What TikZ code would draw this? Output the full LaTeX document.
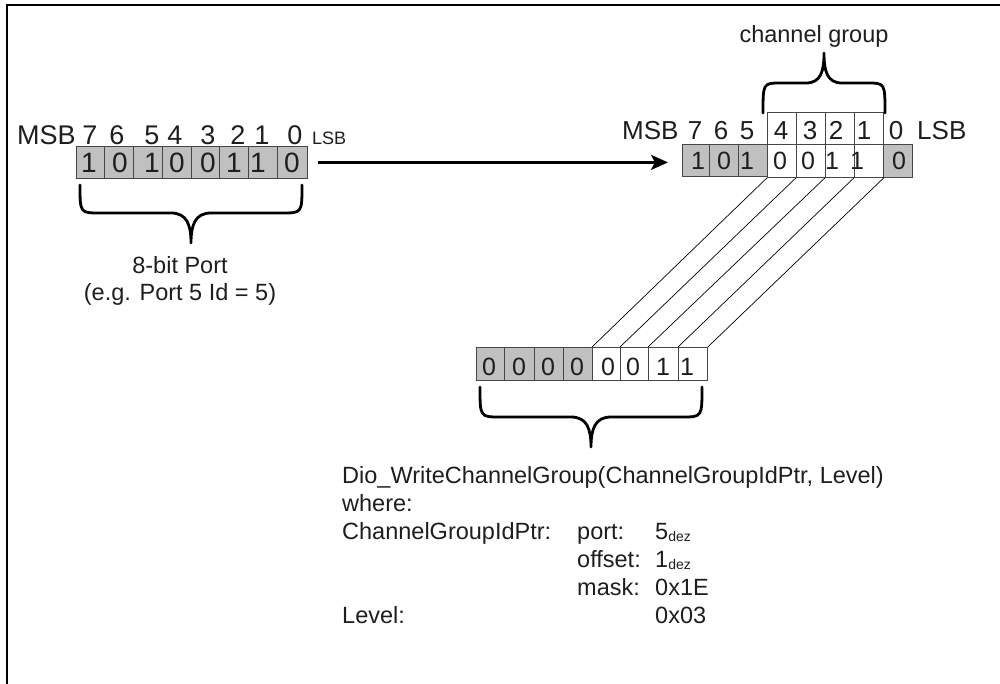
\documentclass[tikz,border=0pt]{standalone}
\usepackage{fontspec}
\setmainfont{Liberation Sans}
\usetikzlibrary{arrows.meta}
\definecolor{cellgray}{RGB}{192,192,192}
\definecolor{cellline}{RGB}{70,70,70}
\definecolor{txt}{RGB}{30,30,30}
\tikzset{
  cellg/.style={draw=cellline, fill=cellgray, line width=0.8pt, inner sep=0pt, anchor=north west, minimum height=32pt},
  cellw/.style={draw=cellline, fill=white, line width=0.8pt, inner sep=0pt, anchor=north west, minimum height=32pt},
  bigdig/.style={anchor=base, inner sep=0pt, text=txt, font=\fontsize{28}{28}\selectfont},
  middig/.style={anchor=base, inner sep=0pt, text=txt, font=\fontsize{25}{25}\selectfont},
  lbl/.style={anchor=base, inner sep=0pt, text=txt, font=\fontsize{27}{27}\selectfont},
  lblr/.style={anchor=base, inner sep=0pt, text=txt, font=\fontsize{26}{26}\selectfont},
  body/.style={anchor=base west, inner sep=0pt, text=txt, font=\fontsize{23.5}{28}\selectfont},
  bodyc/.style={anchor=base, inner sep=0pt, text=txt, font=\fontsize{23.5}{28}\selectfont},
  bracepath/.style={line width=2.8pt, line cap=round, line join=round},
  slant/.style={line width=0.7pt, draw=black},
  arrowline/.style={line width=2.6pt, -{Stealth[length=17pt,width=15pt,inset=4pt]}},
}
\newcommand\dez{\raisebox{-2.5pt}{\fontsize{14}{14}\selectfont dez}}
\begin{document}
\begin{tikzpicture}[x=1pt,y=-1pt]
\useasboundingbox (0,0) rectangle (1000,684);
% frame
\draw[line width=2pt] (7,684) -- (7,5) -- (1000,5);

% left register
\node[cellg, minimum width=28pt] (L0) at (76,146) {};
\node[cellg, minimum width=29pt] (L1) at (104,146) {};
\node[cellg, minimum width=29pt] (L2) at (133,146) {};
\node[cellg, minimum width=29pt] (L3) at (162,146) {};
\node[cellg, minimum width=28pt] (L4) at (191,146) {};
\node[cellg, minimum width=29pt] (L5) at (219,146) {};
\node[cellg, minimum width=29pt] (L6) at (248,146) {};
\node[cellg, minimum width=30pt] (L7) at (277,146) {};
\node[bigdig] (ld0) at (89,173) {1};
\node[bigdig] (ld1) at (120,173) {0};
\node[bigdig] (ld2) at (152,173) {1};
\node[bigdig] (ld3) at (177,173) {0};
\node[bigdig] (ld4) at (208,173) {0};
\node[bigdig] (ld5) at (234,173) {1};
\node[bigdig] (ld6) at (258,173) {1};
\node[bigdig] (ld7) at (292,173) {0};
% left labels
\node[lbl, anchor=base west] (lmsb) at (17,145) {MSB};
\node[lbl] (lb7) at (90,145) {7};
\node[lbl] (lb6) at (117,145) {6};
\node[lbl] (lb5) at (152,145) {5};
\node[lbl] (lb4) at (175,145) {4};
\node[lbl] (lb3) at (208,145) {3};
\node[lbl] (lb2) at (238,145) {2};
\node[lbl] (lb1) at (262,145) {1};
\node[lbl] (lb0) at (295,145) {0};
\node[anchor=base west, inner sep=0pt, text=txt, font=\fontsize{18}{18}\selectfont] (llsb) at (312,145) {LSB};

% right register
\node[cellg, minimum width=27pt] (R0) at (682,144) {};
\node[cellg, minimum width=29pt] (R1) at (709,144) {};
\node[cellg, minimum width=29pt] (R2) at (738,144) {};
\node[cellw, minimum width=29pt, minimum height=33pt] (R3) at (767,144) {};
\node[cellw, minimum width=29pt, minimum height=33pt] (R4) at (796,144) {};
\node[cellw, minimum width=29pt, minimum height=33pt] (R5) at (825,144) {};
\node[cellw, minimum width=29pt, minimum height=33pt] (R6) at (854,144) {};
\node[cellg, minimum width=29pt, minimum height=33pt] (R7) at (883,144) {};
\node[cellw, minimum width=29pt] (U3) at (767,112) {};
\node[cellw, minimum width=29pt] (U4) at (796,112) {};
\node[cellw, minimum width=29pt] (U5) at (825,112) {};
\node[cellw, minimum width=29pt] (U6) at (854,112) {};
\node[middig] (rd0) at (698,170) {1};
\node[middig] (rd1) at (724,170) {0};
\node[middig] (rd2) at (747,170) {1};
\node[middig] (rd3) at (780,170) {0};
\node[middig] (rd4) at (808,170) {0};
\node[middig] (rd5) at (832,170) {1};
\node[middig] (rd6) at (857,170) {1};
\node[middig] (rd7) at (899,170) {0};
% right labels
\node[lblr, anchor=base west] (rmsb) at (622,140) {MSB};
\node[lblr] (rb7) at (695,140) {7};
\node[lblr] (rb6) at (721,140) {6};
\node[lblr] (rb5) at (747,140) {5};
\node[lblr] (rb4) at (781,140) {4};
\node[lblr] (rb3) at (810,140) {3};
\node[lblr] (rb2) at (836,140) {2};
\node[lblr] (rb1) at (864,140) {1};
\node[lblr] (rb0) at (896,140) {0};
\node[lblr, anchor=base west] (rlsb) at (917,140) {LSB};

% bottom register
\node[cellg, minimum width=28pt, minimum height=33pt] (B0) at (476,347) {};
\node[cellg, minimum width=30pt, minimum height=33pt] (B1) at (504,347) {};
\node[cellg, minimum width=29pt, minimum height=33pt] (B2) at (534,347) {};
\node[cellg, minimum width=29pt, minimum height=33pt] (B3) at (563,347) {};
\node[cellw, minimum width=28pt, minimum height=33pt] (B4) at (592,347) {};
\node[cellw, minimum width=28pt, minimum height=33pt] (B5) at (620,347) {};
\node[cellw, minimum width=30pt, minimum height=33pt] (B6) at (648,347) {};
\node[cellw, minimum width=29pt, minimum height=33pt] (B7) at (678,347) {};
\node[middig] (bd0) at (489,375) {0};
\node[middig] (bd1) at (519,375) {0};
\node[middig] (bd2) at (548,375) {0};
\node[middig] (bd3) at (577,375) {0};
\node[middig] (bd4) at (608,375) {0};
\node[middig] (bd5) at (633,375) {0};
\node[middig] (bd6) at (663,375) {1};
\node[middig] (bd7) at (687,375) {1};

% slanted mapping lines
\draw[slant] (B4.north west) -- (R3.south west);
\draw[slant] (B5.north west) -- (R4.south west);
\draw[slant] (B6.north west) -- (R5.south west);
\draw[slant] (B7.north west) -- (R6.south west);
\draw[slant] (B7.north east) -- (R6.south east);

% arrow
\draw[arrowline] ([xshift=10pt]L7.east) -- ([xshift=-14pt]L7.east -| R0.west);

% braces
\draw[bracepath] (80,185) .. controls (80,213) and (80,213) .. (100,213) -- (171,213)
  .. controls (187,213) and (191,225) .. (191,243)
  .. controls (191,225) and (195,213) .. (211,213) -- (282,213)
  .. controls (302,213) and (302,213) .. (302,185);
\draw[bracepath] (480,387) .. controls (480,417) and (480,417) .. (500,417) -- (571,417)
  .. controls (587,417) and (591,429) .. (591,447)
  .. controls (591,429) and (595,417) .. (611,417) -- (682,417)
  .. controls (702,417) and (702,417) .. (702,387);
\draw[bracepath] (763,113) .. controls (763,83) and (763,83) .. (781,83) -- (806,83)
  .. controls (821,83) and (824,71) .. (824,53)
  .. controls (824,71) and (827,83) .. (842,83) -- (867,83)
  .. controls (885,83) and (885,83) .. (885,113);

% texts
\node[bodyc] (cg) at (814,43) {channel group};
\node[bodyc] (port1) at (180,273) {8-bit Port};
\node[bodyc] (port2) at (180,300) {(e.g. Port 5 Id = 5)};
\node[body] (t1) at (342,483) {Dio\_WriteChannelGroup(ChannelGroupIdPtr, Level)};
\node[body] (t2) at (342,511) {where:};
\node[body] (t3) at (342,539) {ChannelGroupIdPtr:};
\node[body] (t3b) at (577,539) {port:};
\node[body] (t3c) at (655,539) {5\dez};
\node[body] (t4b) at (577,567) {offset:};
\node[body] (t4c) at (655,567) {1\dez};
\node[body] (t5b) at (577,595) {mask:};
\node[body] (t5c) at (655,595) {0x1E};
\node[body] (t6) at (342,623) {Level:};
\node[body] (t6c) at (655,623) {0x03};
\end{tikzpicture}
\end{document}
